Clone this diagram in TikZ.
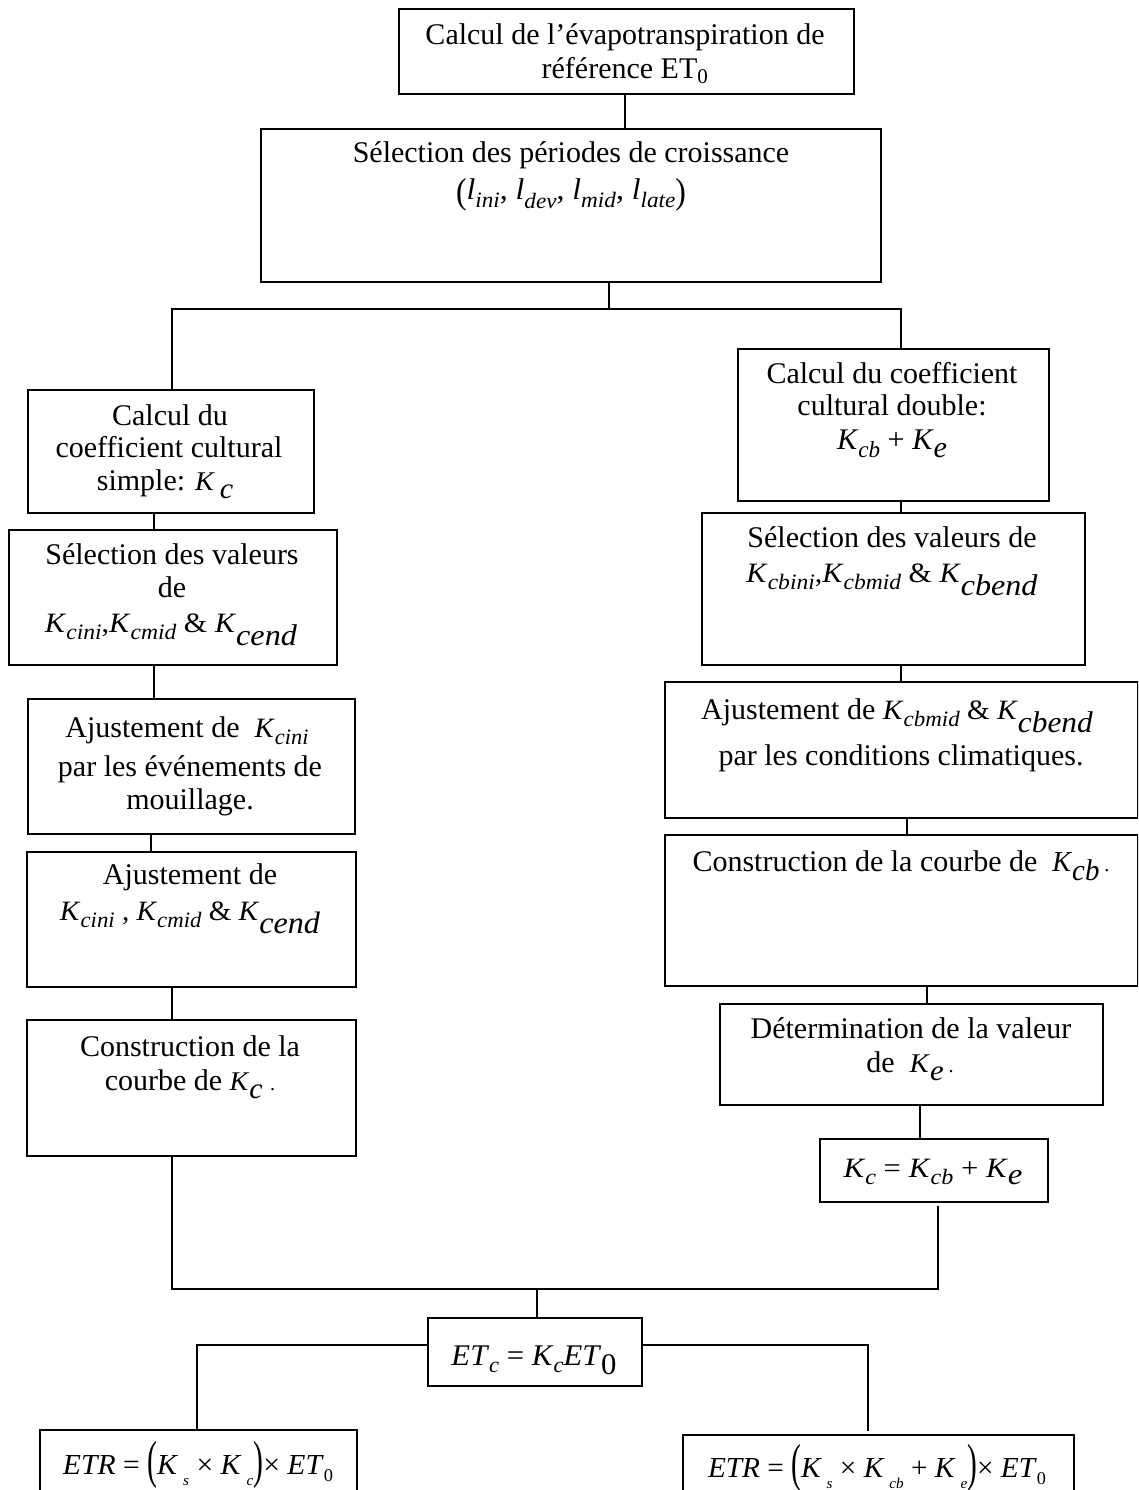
\RequirePackage{fix-cm}
\documentclass[tikz,border=0pt]{standalone}
\usepackage{graphicx}
\usepackage{fontspec}
\setmainfont{Liberation Serif}
\newcommand\vi[1]{\textit{#1}}
\newcommand\fs[1]{\fontsize{#1}{#1}\selectfont}
% lowered subscript: depth, size, text
\newcommand\lw[3]{\raisebox{-#1pt}{\fs{#2}\textit{#3}}}
% stretched parentheses: vertical scale, lowering
\newcommand\lp[2]{\raisebox{-#2pt}{\scalebox{1}[#1]{(}}}
\newcommand\rp[2]{\raisebox{-#2pt}{\scalebox{1}[#1]{)}}}
\newcommand\eqw[2]{\resizebox{#1pt}{\height}{#2}}
\tikzset{
  box/.style={draw, line width=1.8pt, inner sep=0pt, anchor=north west},
  ln/.style={line width=1.5pt},
  txt/.style={anchor=base, inner sep=0pt, font=\fontsize{30}{36}\selectfont}
}
\newcommand\bx[5]{\node[box, minimum width=#4pt, minimum height=#5pt] (#1) at (#2,#3) {};}
\begin{document}
\begin{tikzpicture}[x=1pt,y=-1pt]
\useasboundingbox (0,0) rectangle (1138,1490);
\fill[white] (0,0) rectangle (1138,1490);
\clip (0,0) rectangle (1138,1490);
% boxes
\bx{b1}{398}{8}{455}{85}
\bx{b2}{260}{128}{620}{153}
\bx{cs}{27}{389}{286}{123}
\bx{sv}{8}{529}{328}{135}
\bx{ak}{27}{698}{327}{135}
\bx{ac}{26}{851}{329}{135}
\bx{cc}{26}{1019}{329}{136}
\bx{cd}{737}{348}{311}{152}
\bx{svb}{701}{512}{383}{152}
\bx{akb}{664}{681}{473}{136}
\bx{kcb}{664}{834}{473}{151}
\bx{det}{719}{1003}{383}{101}
\bx{kc}{819}{1138}{228}{63}
\bx{et}{427}{1317}{214}{68}
\bx{etr1}{39}{1429}{317}{80}
\bx{etr2}{682}{1434}{391}{80}
% texts
\node[txt] (t1a) at (625,45) {Calcul de l’évapotranspiration de};
\node[txt] (t1b) at (625,79) {référence ET\textsubscript{0}};
\node[txt] (t2a) at (571,163) {Sélection des périodes de croissance};
\node[txt] (t2b) at (571,200) {\eqw{230}{\fs{30}\lp{1.2}{3}\vi{l}\lw{7}{22}{ini}, \vi{l}\lw{8}{22}{dev}, \vi{l}\lw{7}{22}{mid}, \vi{l}\lw{7}{22}{late}\rp{1.2}{3}}};
\node[txt] (tcsa) at (170,425) {Calcul du};
\node[txt] (tcsb) at (169,457) {coefficient cultural};
\node[txt] (tcsc) at (165,490) {simple: \eqw{38}{\fs{27}\vi{K}\,\lw{8}{29}{c}}};
\node[txt] (tsva) at (172,564) {Sélection des valeurs};
\node[txt] (tsvb) at (172,597) {de};
\node[txt] (tsvc) at (171,632) {\eqw{252}{\fs{28}\vi{K}\lw{7}{22}{cini},\vi{K}\lw{7}{22}{cmid} \& \vi{K}\lw{13}{30}{cend}}};
\node[txt] (taka) at (187,737) {Ajustement de\ \ \eqw{54}{\fs{28}\vi{K}\lw{7}{22}{cini}}};
\node[txt] (takb) at (190,776) {par les événements de};
\node[txt] (takc) at (190,809) {mouillage.};
\node[txt] (taca) at (190,884) {Ajustement de};
\node[txt] (tacb) at (190,920) {\eqw{260}{\fs{28}\vi{K}\lw{7}{22}{cini} , \vi{K}\lw{7}{22}{cmid} \& \vi{K}\lw{13}{31}{cend}}};
\node[txt] (tcca) at (190,1056) {Construction de la};
\node[txt] (tccb) at (190,1090) {courbe de \eqw{33}{\fs{27}\vi{K}\lw{8}{29}{c}}\ {\fs{20}.}};
\node[txt] (tcda) at (892,383) {Calcul du coefficient};
\node[txt] (tcdb) at (892,415) {cultural double:};
\node[txt] (tcdc) at (892,449) {\eqw{110}{\fs{30}\vi{K}\lw{8}{23}{cb} + \vi{K}\lw{8}{30}{e}}};
\node[txt] (tsva2) at (892,547) {Sélection des valeurs de};
\node[txt] (tsvb2) at (892,582) {\eqw{291}{\fs{28}\vi{K}\lw{7}{22}{cbini},\vi{K}\lw{7}{22}{cbmid} \& \vi{K}\lw{13}{30}{cbend}}};
\node[txt] (takba) at (897,719) {Ajustement de \eqw{210}{\fs{28}\vi{K}\lw{7}{22}{cbmid} \& \vi{K}\lw{13}{30}{cbend}}};
\node[txt] (takbb) at (901,765) {par les conditions climatiques.};
\node[txt] (tkcb) at (901,871) {Construction de la courbe de\ \ \eqw{47}{\fs{29}\vi{K}\lw{9}{30}{cb}}\,{\fs{20}.}};
\node[txt] (tdeta) at (911,1038) {Détermination de la valeur};
\node[txt] (tdetb) at (910,1072) {de\ \ \eqw{34}{\fs{27}\vi{K}\lw{8}{29}{e}}\,{\fs{20}.}};
\node[txt] (tkc) at (933,1177) {\eqw{179}{\fs{28}\vi{K}\lw{7}{22}{c} = \vi{K}\lw{7}{22}{cb} + \vi{K}\lw{7}{30}{e}}};
\node[txt] (tet) at (534,1365) {\eqw{165}{\fs{30}\vi{ET}\lw{7}{22}{c} = \vi{K}\lw{7}{22}{c}\vi{ET}\raisebox{-9pt}{\fs{30}0}}};
\node[txt] (tetr1) at (198,1474) {\eqw{270}{\fs{29}\vi{ETR} = \lp{1.8}{3}\vi{K}\,\lw{11}{15}{s} × \vi{K}\,\lw{11}{15}{c}\rp{1.8}{3}× \vi{ET}\raisebox{-7pt}{\fs{18}0}}};
\node[txt] (tetr2) at (877,1477) {\eqw{338}{\fs{29}\vi{ETR} = \lp{1.8}{3}\vi{K}\,\lw{11}{15}{s} × \vi{K}\,\lw{11}{15}{cb} + \vi{K}\,\lw{11}{15}{e}\rp{1.8}{3}× \vi{ET}\raisebox{-7pt}{\fs{18}0}}};
% junction coordinates
\coordinate (c625) at (625,0);
\coordinate (jt) at (609,309);
\coordinate (jl) at (172,309);
\coordinate (jr) at (901,309);
\coordinate (p154) at (154,0);
\coordinate (p151) at (151,0);
\coordinate (p172) at (172,0);
\coordinate (p901) at (901,0);
\coordinate (p907) at (907,0);
\coordinate (p927) at (927,0);
\coordinate (p920) at (920,0);
\coordinate (jbl) at (172,1289);
\coordinate (jbr) at (938,1289);
\coordinate (kcgap) at (938,1206);
\coordinate (jm) at (537,1289);
\coordinate (ey) at (0,1345);
\coordinate (el) at (197,1345);
\coordinate (er) at (868,1345);
\coordinate (erb) at (868,1431);
% connectors
\draw[ln] (b1.south -| c625) -- (b2.north -| c625);
\draw[ln] (b2.south -| jt) -- (jt);
\draw[ln] (cs.north -| jl) -- (jl) -- (jr) -- (cd.north -| jr);
\draw[ln] (cs.south -| p154) -- (sv.north -| p154);
\draw[ln] (sv.south -| p154) -- (ak.north -| p154);
\draw[ln] (ak.south -| p151) -- (ac.north -| p151);
\draw[ln] (ac.south -| p172) -- (cc.north -| p172);
\draw[ln] (cc.south -| p172) -- (jbl) -- (jbr) -- (kcgap);
\draw[ln] (jm) -- (et.north -| jm);
\draw[ln] (cd.south -| p901) -- (svb.north -| p901);
\draw[ln] (svb.south -| p901) -- (akb.north -| p901);
\draw[ln] (akb.south -| p907) -- (kcb.north -| p907);
\draw[ln] (kcb.south -| p927) -- (det.north -| p927);
\draw[ln] (det.south -| p920) -- (kc.north -| p920);
\draw[ln] (et.west |- ey) -- (el) -- (etr1.north -| el);
\draw[ln] (et.east |- ey) -- (er) -- (erb);
\end{tikzpicture}
\end{document}
